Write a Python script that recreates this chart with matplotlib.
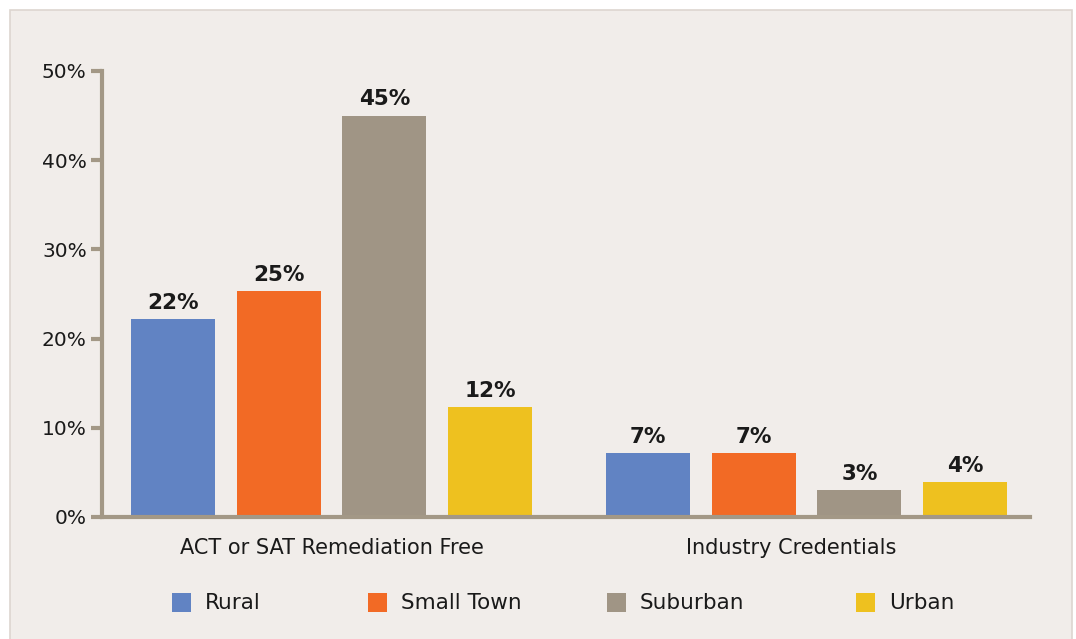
import matplotlib
matplotlib.use("Agg")
import matplotlib.pyplot as plt
from matplotlib.patches import Rectangle
import numpy as np

categories = ["ACT or SAT Remediation Free", "Industry Credentials"]
series = ["Rural", "Small Town", "Suburban", "Urban"]
rural = [22.2, 7.2]
small_town = [25.3, 7.2]
suburban = [45.0, 3.0]
urban = [12.3, 3.9]
labels = [["22%", "7%"], ["25%", "7%"], ["45%", "3%"], ["12%", "4%"]]
yticks = [0, 10, 20, 30, 40, 50]

colors = ["#6183c3", "#f26a25", "#a09585", "#eec11f"]
bg = "#f1edea"
axis_col = "#a39886"
txt = "#1a1a1a"
font = "DejaVu Sans"

fig = plt.figure(figsize=(10.76, 6.39), dpi=100)
fig.patch.set_facecolor("white")
fig.add_artist(Rectangle((10 / 1076, -0.01), 1062 / 1076, 1 - 10 / 639 + 0.01,
                         transform=fig.transFigure, facecolor=bg,
                         edgecolor="#ddd6d0", linewidth=1.2, zorder=0))

ax = fig.add_axes([102 / 1076, 1 - 517 / 639, 928 / 1076, 446 / 639])
ax.set_facecolor("none")

x = np.arange(len(categories))
width = 0.177
step = 0.2225
values = [rural, small_town, suburban, urban]
for i, (name, vals) in enumerate(zip(series, values)):
    pos = x + (i - 1.5) * step
    ax.bar(pos, vals, width, color=colors[i], label=name, zorder=2)
    for p, v, lab in zip(pos, vals, labels[i]):
        ax.text(p, v + 0.7, lab, ha="center", va="bottom", fontsize=15.5,
                fontweight="bold", color=txt, family=font)

ax.set_xlim(-0.483, 1.4705)
ax.set_ylim(0, 50)
ax.set_yticks(yticks)
ax.set_yticklabels([f"{t}%" for t in yticks], fontsize=14.5, color=txt, family=font)
ax.set_xticks([])

# category labels (second one sits a bit left of its group centre)
for xi, cat, dx in zip(x, categories, [0, -11]):
    ax.annotate(cat, xy=(xi, 0), xycoords=("data", "axes fraction"),
                xytext=(dx, -22), textcoords="offset points",
                ha="center", va="center", fontsize=15, color=txt, family=font)

ax.tick_params(axis="y", length=8, width=3, color=axis_col, pad=3)
for s in ["top", "right"]:
    ax.spines[s].set_visible(False)
for s in ["left", "bottom"]:
    ax.spines[s].set_color(axis_col)
    ax.spines[s].set_linewidth(3)

# legend placed manually
leg_x = [172, 368, 607, 856]
for name, c, lx in zip(series, colors, leg_x):
    fig.add_artist(Rectangle((lx / 1076, 1 - 612 / 639), 19 / 1076, 19 / 639,
                             transform=fig.transFigure, facecolor=c, edgecolor="none"))
    fig.text((lx + 33) / 1076, 1 - 603 / 639, name, fontsize=15.5, color=txt,
             va="center", ha="left", family=font)

fig.savefig("out.png", dpi=100, facecolor=fig.get_facecolor())
